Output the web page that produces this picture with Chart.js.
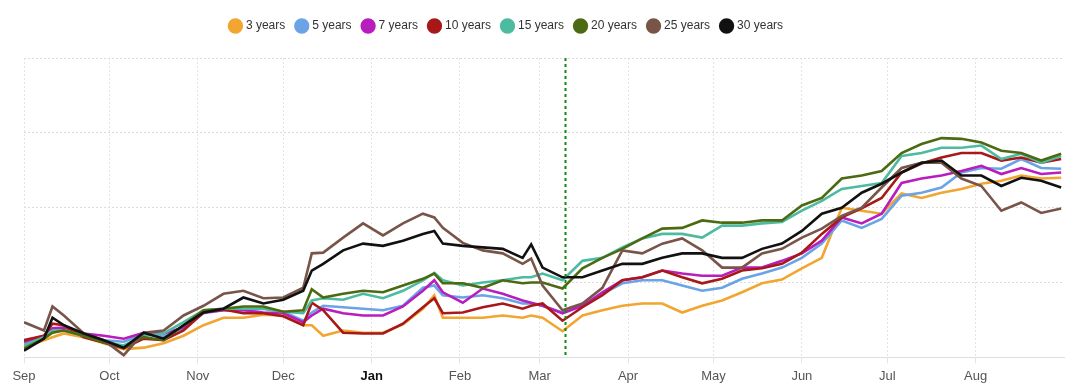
<!DOCTYPE html>
<html>
<head>
<meta charset="utf-8">
<script src="https://cdn.jsdelivr.net/npm/chart.js@4.4.1/dist/chart.umd.min.js"></script>
<style>
  html, body { margin: 0; padding: 0; background: #fff; }
  #wrap { width: 1078px; height: 389px; }
</style>
</head>
<body>
<div id="wrap"><canvas id="chart"></canvas></div>
<script>
// days since 1 Sep (Sep 1 = 0 ... Aug 31 = 364)
const days = [0, 7, 10, 14, 21, 28, 35, 42, 49, 56, 63, 70, 77, 84, 91, 98, 101, 105, 112, 119, 126, 133, 140, 144, 147,
  154, 161, 168, 175, 178, 182, 189, 196, 203, 210, 217, 224, 231, 238, 245, 252, 259, 266, 273, 280, 287, 294,
  301, 308, 315, 322, 329, 336, 343, 350, 357, 364];

const monthStarts = [0, 30, 61, 91, 122, 153, 181, 212, 242, 273, 303, 334];
const monthLabels = ["Sep", "Oct", "Nov", "Dec", "Jan", "Feb", "Mar", "Apr", "May", "Jun", "Jul", "Aug"];
const eventDay = 190; // 10 Mar, dotted marker

const y3 = [0.13, 0.23, 0.27, 0.32, 0.27, 0.19, 0.11, 0.13, 0.19, 0.29, 0.43, 0.53, 0.53, 0.57, 0.56, 0.43, 0.43, 0.29, 0.36, 0.33, 0.33, 0.44, 0.65, 0.83, 0.53,
  0.53, 0.53, 0.56, 0.53, 0.56, 0.53, 0.35, 0.56, 0.63, 0.69, 0.72, 0.72, 0.60, 0.69, 0.76, 0.87, 0.99, 1.04, 1.19, 1.33, 2.00, 1.96,
  1.92, 2.19, 2.13, 2.20, 2.25, 2.32, 2.36, 2.43, 2.39, 2.40];
const y5 = [0.19, 0.25, 0.36, 0.36, 0.29, 0.23, 0.21, 0.31, 0.28, 0.39, 0.59, 0.63, 0.63, 0.65, 0.61, 0.49, 0.60, 0.69, 0.67, 0.65, 0.63, 0.69, 0.93, 0.96, 0.83,
  0.80, 0.83, 0.79, 0.72, 0.72, 0.69, 0.60, 0.69, 0.85, 0.99, 1.03, 1.03, 0.96, 0.89, 0.93, 1.05, 1.12, 1.20, 1.33, 1.52, 1.83, 1.73,
  1.85, 2.16, 2.20, 2.27, 2.47, 2.53, 2.52, 2.65, 2.53, 2.52];
const y7 = [0.21, 0.29, 0.39, 0.40, 0.32, 0.29, 0.25, 0.33, 0.32, 0.40, 0.60, 0.63, 0.63, 0.60, 0.59, 0.47, 0.56, 0.65, 0.59, 0.56, 0.56, 0.68, 0.89, 1.03, 0.87,
  0.73, 0.92, 0.85, 0.76, 0.73, 0.69, 0.59, 0.69, 0.87, 1.03, 1.07, 1.16, 1.12, 1.09, 1.09, 1.20, 1.20, 1.29, 1.39, 1.56, 1.87, 1.79,
  1.92, 2.33, 2.39, 2.43, 2.49, 2.56, 2.45, 2.53, 2.45, 2.47];
const y10 = [0.23, 0.29, 0.45, 0.43, 0.27, 0.20, 0.12, 0.25, 0.23, 0.36, 0.60, 0.64, 0.59, 0.59, 0.55, 0.43, 0.73, 0.63, 0.33, 0.32, 0.32, 0.45, 0.67, 0.79, 0.59,
  0.60, 0.67, 0.72, 0.65, 0.69, 0.72, 0.49, 0.67, 0.83, 1.03, 1.07, 1.16, 1.07, 0.99, 1.05, 1.16, 1.19, 1.25, 1.40, 1.65, 1.87, 1.99,
  2.13, 2.47, 2.59, 2.67, 2.73, 2.73, 2.63, 2.67, 2.60, 2.65];
const y15 = [0.16, 0.27, 0.36, 0.36, 0.29, 0.21, 0.16, 0.29, 0.32, 0.47, 0.63, 0.65, 0.65, 0.65, 0.61, 0.59, 0.76, 0.79, 0.77, 0.85, 0.79, 0.89, 1.03, 1.13, 1.03,
  0.96, 1.00, 1.03, 1.07, 1.07, 1.12, 1.03, 1.29, 1.33, 1.47, 1.59, 1.65, 1.65, 1.60, 1.76, 1.76, 1.79, 1.81, 1.96, 2.09, 2.25, 2.29,
  2.33, 2.69, 2.73, 2.80, 2.80, 2.83, 2.65, 2.72, 2.60, 2.69];
const y20 = [0.12, 0.25, 0.33, 0.36, 0.29, 0.20, 0.13, 0.27, 0.23, 0.43, 0.63, 0.65, 0.68, 0.68, 0.61, 0.63, 0.91, 0.80, 0.85, 0.89, 0.87, 0.96, 1.05, 1.12, 0.99,
  0.99, 0.93, 1.03, 0.99, 1.00, 1.00, 0.92, 1.19, 1.33, 1.45, 1.59, 1.72, 1.73, 1.83, 1.80, 1.80, 1.83, 1.83, 2.03, 2.13, 2.39, 2.43,
  2.49, 2.73, 2.85, 2.93, 2.92, 2.87, 2.76, 2.73, 2.63, 2.72];
const y25 = [0.47, 0.36, 0.68, 0.56, 0.32, 0.23, 0.03, 0.33, 0.36, 0.56, 0.69, 0.85, 0.89, 0.79, 0.80, 0.93, 1.39, 1.40, 1.60, 1.79, 1.63, 1.79, 1.92, 1.87, 1.73,
  1.53, 1.43, 1.39, 1.25, 1.32, 0.96, 0.63, 0.72, 0.93, 1.43, 1.39, 1.52, 1.59, 1.43, 1.20, 1.20, 1.39, 1.45, 1.60, 1.72, 1.89, 2.00,
  2.27, 2.53, 2.60, 2.60, 2.39, 2.29, 1.96, 2.07, 1.93, 1.99];
const y30 = [0.09, 0.25, 0.53, 0.43, 0.32, 0.23, 0.13, 0.33, 0.25, 0.43, 0.60, 0.65, 0.80, 0.72, 0.77, 0.89, 1.16, 1.25, 1.43, 1.52, 1.49, 1.56, 1.65, 1.69, 1.52,
  1.49, 1.47, 1.45, 1.33, 1.51, 1.20, 1.07, 1.07, 1.16, 1.25, 1.25, 1.33, 1.39, 1.39, 1.33, 1.33, 1.45, 1.52, 1.69, 1.92, 2.00, 2.20,
  2.32, 2.47, 2.60, 2.63, 2.43, 2.43, 2.29, 2.40, 2.36, 2.27];

const seriesNames = ["3 years", "5 years", "7 years", "10 years", "15 years", "20 years", "25 years", "30 years"];
const seriesValues = [y3, y5, y7, y10, y15, y20, y25, y30];
const colors = ["#f2a530", "#6aa3e6", "#b81dbd", "#a81818", "#4dbba0", "#4b6a12", "#785548", "#111111"];

const datasets = seriesNames.map((name, i) => ({
  label: name,
  data: days.map((d, j) => ({ x: d, y: seriesValues[i][j] })),
  borderColor: colors[i],
  backgroundColor: colors[i],
  borderWidth: 2.6,
  pointRadius: 0,
  tension: 0,
  order: 8 - i   // longer maturities drawn on top
}));

// dotted green marker line
const eventLine = {
  id: "eventLine",
  afterDatasetsDraw(chart) {
    const { ctx, chartArea, scales } = chart;
    const x = Math.round(scales.x.getPixelForValue(eventDay)) + 0.5;
    ctx.save();
    ctx.strokeStyle = "#138a13";
    ctx.lineWidth = 2;
    ctx.setLineDash([3, 3]);
    ctx.beginPath();
    ctx.moveTo(x, chartArea.top);
    ctx.lineTo(x, chartArea.bottom);
    ctx.stroke();
    ctx.restore();
  }
};

// extra space under the legend, and legend sits a bit left of centre
const legendTweak = {
  id: "legendTweak",
  beforeInit(chart) {
    const fit = chart.legend.fit;
    chart.legend.fit = function () {
      fit.bind(chart.legend)();
      this.height += 16;
    };
  },
  afterLayout(chart) {
    chart.legend.right -= 74;
  }
};

new Chart(document.getElementById("chart"), {
  type: "line",
  data: { datasets },
  plugins: [eventLine, legendTweak],
  options: {
    responsive: true,
    maintainAspectRatio: false,
    animation: false,
    layout: { padding: { left: 24, right: 14, top: 8, bottom: 0 } },
    plugins: {
      tooltip: { enabled: false },
      legend: {
        position: "top",
        labels: {
          usePointStyle: true,
          pointStyle: "circle",
          boxWidth: 9,
          boxHeight: 9,
          padding: 12,
          color: "#333",
          sort: (a, b) => a.datasetIndex - b.datasetIndex,
          font: { family: "'Liberation Sans', Arial, sans-serif", size: 12 }
        }
      }
    },
    scales: {
      x: {
        type: "linear",
        min: 0,
        max: 365,
        afterBuildTicks: (axis) => { axis.ticks = monthStarts.map(v => ({ value: v })); },
        grid: { color: "#e4e4e4", tickLength: 6, drawOnChartArea: true },
        border: { display: true, color: "#dedede", dash: [2, 2] },
        ticks: {
          autoSkip: false,
          maxRotation: 0,
          padding: 5,
          callback: (v) => monthLabels[monthStarts.indexOf(v)],
          color: (c) => c.tick && c.tick.value === 122 ? "#111" : "#555",
          font: (c) => ({
            family: "'Liberation Sans', Arial, sans-serif",
            size: 13,
            weight: c.tick && c.tick.value === 122 ? "bold" : "normal"
          })
        }
      },
      y: {
        min: 0,
        max: 4,
        ticks: { display: false, stepSize: 1 },
        grid: { color: "#dcdcdc", drawTicks: false },
        border: { display: false, dash: [2, 2] }
      }
    }
  }
});
</script>
</body>
</html>
